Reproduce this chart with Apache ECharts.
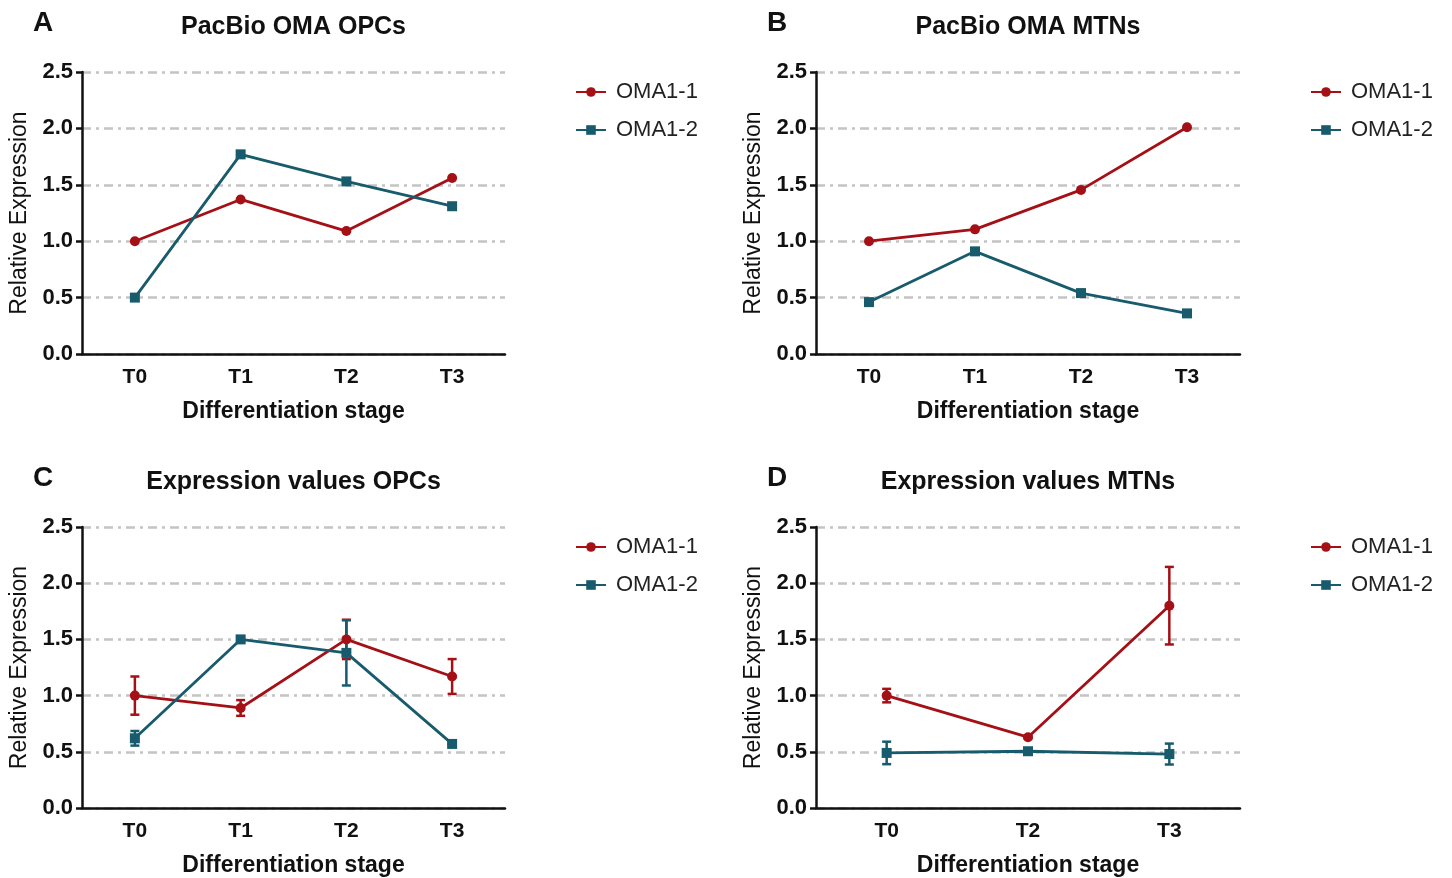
<!DOCTYPE html>
<html>
<head>
<meta charset="utf-8">
<script src="https://cdn.jsdelivr.net/npm/echarts@6/dist/echarts.min.js"></script>
<style>
  html, body { margin: 0; padding: 0; background: #fff; }
  #chart { width: 1452px; height: 878px; }
</style>
</head>
<body>
<div id="chart"></div>
<script>
// categories
const stages4 = ['T0', 'T1', 'T2', 'T3'];
const stages3 = ['T0', 'T2', 'T3'];
const yTicks = [0, 0.5, 1.0, 1.5, 2.0, 2.5];

// A: PacBio OMA OPCs
const pacOpcOma11 = [1.0, 1.37, 1.09, 1.56];
const pacOpcOma12 = [0.50, 1.77, 1.53, 1.31];
// B: PacBio OMA MTNs
const pacMtnOma11 = [1.0, 1.105, 1.455, 2.01];
const pacMtnOma12 = [0.46, 0.91, 0.54, 0.36];
// C: Expression values OPCs (mean, error)
const expOpcOma11 = [1.0, 0.89, 1.50, 1.17];
const expOpcOma11Err = [0.17, 0.07, 0.175, 0.155];
const expOpcOma12 = [0.62, 1.50, 1.38, 0.57];
const expOpcOma12Err = [0.065, 0.02, 0.29, 0.01];
// D: Expression values MTNs (mean, error)
const expMtnOma11 = [1.0, 0.63, 1.80];
const expMtnOma11Err = [0.06, 0.01, 0.345];
const expMtnOma12 = [0.49, 0.505, 0.48];
const expMtnOma12Err = [0.10, 0.01, 0.093];

const RED = '#a51016';
const TEAL = '#175b6c';
const FONT = "'Liberation Sans', Arial, sans-serif";

const panels = [
  { letter: 'A', title: 'PacBio OMA OPCs', left: 82, top: 72, width: 423, cats: stages4, s1: pacOpcOma11, s2: pacOpcOma12 },
  { letter: 'B', title: 'PacBio OMA MTNs', left: 816, top: 72, width: 424, cats: stages4, s1: pacMtnOma11, s2: pacMtnOma12 },
  { letter: 'C', title: 'Expression values OPCs', left: 82, top: 527, width: 423, cats: stages4, s1: expOpcOma11, s2: expOpcOma12, e1: expOpcOma11Err, e2: expOpcOma12Err },
  { letter: 'D', title: 'Expression values MTNs', left: 816, top: 527, width: 424, cats: stages3, s1: expMtnOma11, s2: expMtnOma12, e1: expMtnOma11Err, e2: expMtnOma12Err }
];

const grids = [], xAxes = [], yAxes = [], titles = [], legends = [], series = [];

function errorSeries(name, idx, means, errs, color) {
  return {
    name: name,
    type: 'custom',
    xAxisIndex: idx,
    yAxisIndex: idx,
    z: 3,
    silent: true,
    data: means.map((m, i) => [i, m, errs[i]]),
    renderItem: (params, api) => {
      const x = api.value(0), y = api.value(1), e = api.value(2);
      const hi = api.coord([x, y + e]);
      const lo = api.coord([x, y - e]);
      const w = 4.5;
      const st = { stroke: color, lineWidth: 2.5 };
      return {
        type: 'group',
        children: [
          { type: 'line', shape: { x1: hi[0], y1: hi[1], x2: lo[0], y2: lo[1] }, style: st },
          { type: 'line', shape: { x1: hi[0] - w, y1: hi[1], x2: hi[0] + w, y2: hi[1] }, style: st },
          { type: 'line', shape: { x1: lo[0] - w, y1: lo[1], x2: lo[0] + w, y2: lo[1] }, style: st }
        ]
      };
    }
  };
}

panels.forEach((p, i) => {
  const cx = p.left + p.width / 2;
  grids.push({ left: p.left, top: p.top, width: p.width, height: 282 });
  titles.push({
    text: p.letter, left: p.left - 49, top: p.top - 63, padding: 0,
    textStyle: { fontFamily: FONT, fontSize: 28, fontWeight: 'bold', color: '#111' }
  });
  titles.push({
    text: p.title, left: cx, top: p.top - 57, padding: 0, textAlign: 'center',
    textStyle: { fontFamily: FONT, fontSize: 25, fontWeight: 'bold', color: '#111' }
  });
  xAxes.push({
    gridIndex: i,
    type: 'category',
    data: p.cats,
    boundaryGap: true,
    name: 'Differentiation stage',
    nameLocation: 'middle',
    nameGap: 46,
    nameTextStyle: { fontFamily: FONT, fontSize: 23, fontWeight: 'bold', color: '#111' },
    axisLine: { lineStyle: { color: '#111', width: 2.5 } },
    axisTick: { alignWithLabel: true, length: 6, lineStyle: { color: '#111', width: 2.5 } },
    axisLabel: { fontFamily: FONT, fontSize: 21, fontWeight: 'bold', color: '#111', margin: 13 },
    splitLine: { show: false }
  });
  yAxes.push({
    gridIndex: i,
    type: 'value',
    min: yTicks[0],
    max: yTicks[yTicks.length - 1],
    interval: 0.5,
    name: 'Relative Expression',
    nameLocation: 'middle',
    nameGap: 51,
    nameTextStyle: { fontFamily: FONT, fontSize: 23, color: '#111' },
    axisLine: { show: true, lineStyle: { color: '#111', width: 2.5 } },
    axisTick: { show: true, length: 6, lineStyle: { color: '#111', width: 2.5 } },
    axisLabel: { fontFamily: FONT, fontSize: 22, fontWeight: 'bold', color: '#111', margin: 9, formatter: v => v.toFixed(1) },
    splitLine: { show: true, lineStyle: { color: '#c4c4c4', width: 2.5, type: [9, 5, 3, 5] } }
  });
  legends.push({
    orient: 'vertical',
    left: p.left + p.width + 65,
    top: p.top + 4,
    itemWidth: 30,
    itemHeight: 12,
    itemGap: 16,
    data: ['OMA1-1', 'OMA1-2'],
    textStyle: { fontFamily: FONT, fontSize: 22, color: '#222', padding: [0, 0, 0, 5] }
  });
  series.push({
    name: 'OMA1-1', type: 'line', xAxisIndex: i, yAxisIndex: i, z: 4,
    data: p.s1, symbol: 'circle', symbolSize: 10,
    lineStyle: { color: RED, width: 2.8 }, itemStyle: { color: RED }
  });
  series.push({
    name: 'OMA1-2', type: 'line', xAxisIndex: i, yAxisIndex: i, z: 4,
    data: p.s2, symbol: 'rect', symbolSize: 10,
    lineStyle: { color: TEAL, width: 2.8 }, itemStyle: { color: TEAL }
  });
  if (p.e1) {
    series.push(errorSeries('OMA1-1 err', i, p.s1, p.e1, RED));
    series.push(errorSeries('OMA1-2 err', i, p.s2, p.e2, TEAL));
  }
});

const chart = echarts.init(document.getElementById('chart'));
chart.setOption({
  backgroundColor: '#fff',
  animation: false,
  title: titles,
  legend: legends,
  grid: grids,
  xAxis: xAxes,
  yAxis: yAxes,
  series: series
});
window.addEventListener('resize', () => chart.resize());
</script>
</body>
</html>
